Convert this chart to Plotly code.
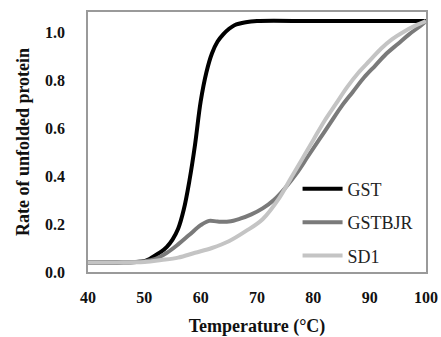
import plotly.graph_objects as go

# Temperature (°C) and unfolded-protein rate
gst_t = [40, 45, 50, 51, 52, 53, 54, 55, 56, 57, 58, 59, 60, 61, 62, 63, 64, 65, 66, 68, 70, 80, 90, 100]
gst_v = [0.04, 0.04, 0.045, 0.055, 0.07, 0.085, 0.105, 0.135, 0.18, 0.26, 0.38, 0.53, 0.71, 0.83, 0.91, 0.96, 0.99, 1.012, 1.028, 1.04, 1.045, 1.045, 1.045, 1.045]

gstbjr_t = [40, 45, 50, 52, 54, 56, 58, 60, 61.5, 63, 65, 67, 69, 71, 73, 75, 77, 79, 81, 83, 85, 87, 89, 91, 93, 95, 97, 99, 100]
gstbjr_v = [0.04, 0.04, 0.045, 0.055, 0.08, 0.115, 0.155, 0.195, 0.213, 0.21, 0.21, 0.222, 0.24, 0.265, 0.30, 0.35, 0.41, 0.48, 0.55, 0.62, 0.69, 0.75, 0.81, 0.86, 0.91, 0.95, 0.99, 1.025, 1.045]

sd1_t = [40, 45, 50, 53, 56, 59, 62, 65, 68, 71, 74, 76, 78, 80, 82, 84, 86, 88, 90, 92, 94, 96, 98, 100]
sd1_v = [0.04, 0.04, 0.042, 0.05, 0.06, 0.08, 0.10, 0.128, 0.17, 0.22, 0.31, 0.39, 0.47, 0.55, 0.63, 0.70, 0.77, 0.83, 0.88, 0.93, 0.97, 1.0, 1.025, 1.045]

x_ticks = [40, 50, 60, 70, 80, 90, 100]
y_ticks = [0.0, 0.2, 0.4, 0.6, 0.8, 1.0]
y_tick_text = ["0.0", "0.2", "0.4", "0.6", "0.8", "1.0"]

series = [
    ("GST", gst_t, gst_v, "#000000"),
    ("GSTBJR", gstbjr_t, gstbjr_v, "#7a7a7a"),
    ("SD1", sd1_t, sd1_v, "#c4c4c4"),
]

fig = go.Figure()
for name, t, v, col in series:
    fig.add_trace(go.Scatter(
        x=t, y=v, name=name, mode="lines",
        line=dict(color=col, width=4, shape="spline", smoothing=1.0),
        legendgroup=name,
    ))

serif = "Liberation Serif"
fig.update_layout(
    width=441, height=337,
    margin=dict(l=88, r=15, t=12, b=65),
    paper_bgcolor="white", plot_bgcolor="white",
    font=dict(family=serif, color="#111111"),
    showlegend=True,
    legend=dict(
        x=0.62, y=0.39, xanchor="left", yanchor="top",
        bgcolor="rgba(0,0,0,0)", font=dict(family=serif, size=18, color="#222222"),
        tracegroupgap=7, itemwidth=40,
    ),
    xaxis=dict(
        range=[40, 100], tickvals=x_ticks, ticks="", showgrid=False, zeroline=False,
        showline=True, linecolor="#9a9a9a", linewidth=1.5, mirror=True, automargin=False,
        tickfont=dict(family=serif, size=16, color="#111111", weight="bold"),
        ticklabelstandoff=10,
        title=dict(text="<b>Temperature (°C)</b>", font=dict(family=serif, size=18, color="#111111"), standoff=23),
    ),
    yaxis=dict(
        range=[0, 1.083], tickvals=y_ticks, ticktext=y_tick_text, ticks="", showgrid=False, zeroline=False,
        showline=True, linecolor="#9a9a9a", linewidth=1.5, mirror=True, automargin=False,
        tickfont=dict(family=serif, size=16, color="#111111", weight="bold"),
        ticklabelstandoff=18,
        title=dict(text="<b>Rate of unfolded protein</b>", font=dict(family=serif, size=18, color="#111111"), standoff=11),
    ),
)

fig.write_html("out.html", config={"displayModeBar": False},
               post_script="document.body.style.margin='0';")
